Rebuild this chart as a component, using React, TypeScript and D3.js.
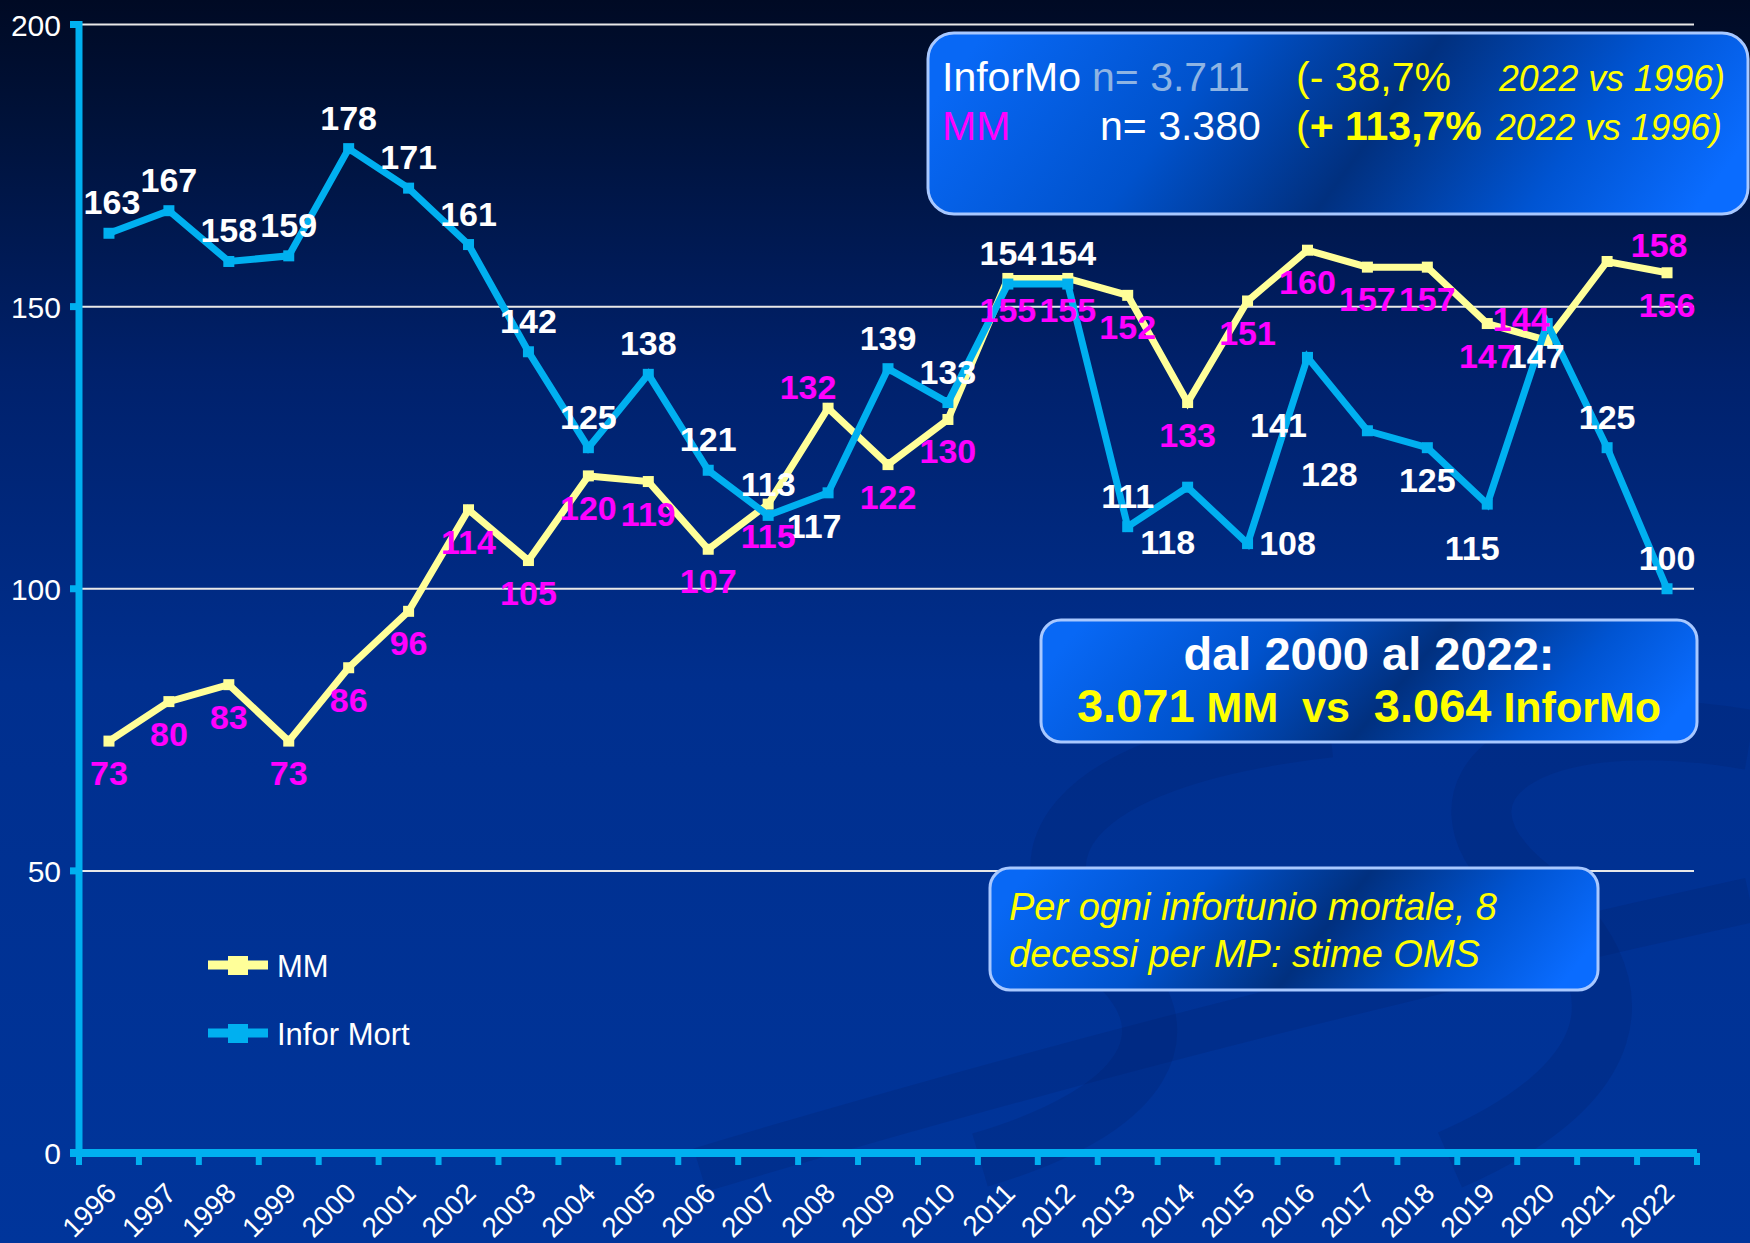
import React from "react";
import * as d3 from "d3";

const years = ["1996","1997","1998","1999","2000","2001","2002","2003","2004","2005","2006","2007","2008","2009","2010","2011","2012","2013","2014","2015","2016","2017","2018","2019","2020","2021","2022"];
const inforMort = [163,167,158,159,178,171,161,142,125,138,121,113,117,139,133,154,154,111,118,108,141,128,125,115,147,125,100];
const mm = [73,80,83,73,86,96,114,105,120,119,107,115,132,122,130,155,155,152,133,151,160,157,157,147,144,158,156];
const yTicks = [0, 50, 100, 150, 200];

// label placement (center offsets from point), layout only
const inforLabelOffsets: Record<number, [number, number]> = {
  0: [3, -31], 12: [-14, 33], 18: [-20, 55], 19: [40, -1], 20: [-29, 68],
  21: [-38, 43], 22: [0, 32], 23: [-15, 44], 24: [-11, 32],
};
const mmLabelOffsets: Record<number, [number, number]> = {
  12: [-20, -21], 24: [-26, -21], 25: [52, -16],
};

const W = 1750, H = 1243;
const FONT = "'Liberation Sans', Arial, Helvetica, sans-serif";
const CYAN = "#00B0F0";
const YEL = "#FFFF99";
const MAG = "#FF00FF";
const NB2 = "\u00A0\u00A0";

export default function App() {
  const x = d3.scaleBand<string>().domain(years).range([79, 1697]);
  const bw = x.bandwidth();
  const cx = (i: number) => (x(years[i]) as number) + bw / 2;
  const y = d3.scaleLinear().domain([0, 200]).range([1153, 24.5]);

  const line = d3.line<number>().x((_, i) => cx(i)).y((d) => y(d));

  const labelFs = 34;
  const boxGrad = (id: string) => (
    <linearGradient id={id} x1="0" y1="0.42" x2="1" y2="0.58">
      <stop offset="0" stopColor="#0868f5" />
      <stop offset="0.3" stopColor="#0052cc" />
      <stop offset="0.55" stopColor="#01307f" />
      <stop offset="0.8" stopColor="#0054d2" />
      <stop offset="1" stopColor="#0a6cff" />
    </linearGradient>
  );

  return (
    <svg width={W} height={H} style={{ position: "absolute", left: 0, top: 0, display: "block" }} fontFamily={FONT}>
      <defs>
        <linearGradient id="bg" x1="0" y1="0" x2="0" y2="1">
          <stop offset="0" stopColor="#000a24" />
          <stop offset="0.1" stopColor="#00123a" />
          <stop offset="0.3" stopColor="#00216c" />
          <stop offset="0.55" stopColor="#002f8e" />
          <stop offset="1" stopColor="#00359b" />
        </linearGradient>
        {boxGrad("box1")}
        {boxGrad("box2")}
        {boxGrad("box3")}
      </defs>
      <rect x={0} y={0} width={W} height={H} fill="url(#bg)" />
      {/* background swooshes */}
      <g fill="none" stroke="#001c66" strokeOpacity={0.2}>
        <path d="M 1330 730 C 1060 760, 1000 860, 1110 960 C 1190 1030, 1150 1110, 980 1160" strokeWidth={55} />
        <path d="M 1750 740 C 1520 700, 1420 790, 1520 880 C 1660 990, 1610 1090, 1450 1160" strokeWidth={60} />
        <path d="M 700 1170 Q 1200 1020 1750 900" strokeWidth={45} />
      </g>

      {/* gridlines */}
      {yTicks.filter((t) => t > 0).map((t) => (
        <line key={t} x1={82} x2={1694} y1={y(t)} y2={y(t)} stroke="#E8E8E8" strokeWidth={2} />
      ))}

      {/* y axis */}
      <line x1={79} x2={79} y1={21} y2={1157} stroke={CYAN} strokeWidth={7} />
      {yTicks.map((t) => (
        <g key={t}>
          <line x1={70} x2={80} y1={y(t)} y2={y(t)} stroke={CYAN} strokeWidth={7} />
          <text x={61} y={y(t) + 11} fill="#FFFFFF" fontSize={30} textAnchor="end">{t}</text>
        </g>
      ))}

      {/* x axis */}
      <line x1={70} x2={1697} y1={1153} y2={1153} stroke={CYAN} strokeWidth={8} />
      {d3.range(years.length + 1).map((i) => (
        <line key={i} x1={79 + i * bw} x2={79 + i * bw} y1={1153} y2={1165} stroke={CYAN} strokeWidth={6} />
      ))}
      {years.map((yr, i) => (
        <text key={yr} transform={`translate(${cx(i) + 9},${1195}) rotate(-45)`} fill="#FFFFFF" fontSize={28} textAnchor="end">{yr}</text>
      ))}

      {/* series lines */}
      <path d={line(mm) || ""} fill="none" stroke={YEL} strokeWidth={7} />
      {mm.map((v, i) => (
        <rect key={i} x={cx(i) - 5.5} y={y(v) - 5.5} width={11} height={11} fill={YEL} />
      ))}
      <path d={line(inforMort) || ""} fill="none" stroke={CYAN} strokeWidth={7} />
      {inforMort.map((v, i) => (
        <rect key={i} x={cx(i) - 5.5} y={y(v) - 5.5} width={11} height={11} fill={CYAN} />
      ))}

      {/* data labels */}
      {inforMort.map((v, i) => {
        const [dx, dy] = inforLabelOffsets[i] || [0, -31];
        return (
          <text key={"il" + i} x={cx(i) + dx} y={y(v) + dy + 12} fill="#FFFFFF" fontSize={labelFs} fontWeight="bold" textAnchor="middle">{v}</text>
        );
      })}
      {mm.map((v, i) => {
        const [dx, dy] = mmLabelOffsets[i] || [0, 32];
        return (
          <text key={"ml" + i} x={cx(i) + dx} y={y(v) + dy + 12} fill={MAG} fontSize={labelFs} fontWeight="bold" textAnchor="middle">{v}</text>
        );
      })}

      {/* legend */}
      <g>
        <line x1={208} x2={268} y1={965} y2={965} stroke={YEL} strokeWidth={9} />
        <rect x={228} y={956} width={20} height={19} fill={YEL} />
        <text x={277} y={977} fill="#FFFFFF" fontSize={31}>MM</text>
        <line x1={208} x2={268} y1={1033} y2={1033} stroke={CYAN} strokeWidth={9} />
        <rect x={228} y={1024} width={20} height={19} fill={CYAN} />
        <text x={277} y={1045} fill="#FFFFFF" fontSize={31}>Infor Mort</text>
      </g>

      {/* box 1 */}
      <rect x={928} y={33} width={820} height={181} rx={26} fill="url(#box1)" stroke="#A8C8FF" strokeWidth={3} />
      <text y={91} fontSize={41}>
        <tspan x={942} fill="#FFFFFF">InforMo</tspan>
        <tspan x={1092} fill="#8EB4E3">n= 3.711</tspan>
        <tspan x={1296} fill="#FFFF00">(- 38,7%</tspan>
      </text>
      <text x={1499} y={91} fontSize={37} fill="#FFFF00" fontStyle="italic" textLength={226} lengthAdjust="spacingAndGlyphs">2022 vs 1996)</text>
      <text y={140} fontSize={41}>
        <tspan x={942} fill={MAG}>MM</tspan>
        <tspan x={1100} fill="#FFFFFF">n= 3.380</tspan>
        <tspan x={1296} fill="#FFFF00">(</tspan>
        <tspan fill="#FFFF00" fontWeight="bold">+ 113,7%</tspan>
      </text>
      <text x={1496} y={140} fontSize={37} fill="#FFFF00" fontStyle="italic" textLength={226} lengthAdjust="spacingAndGlyphs">2022 vs 1996)</text>

      {/* box 2 */}
      <rect x={1041} y={620} width={656} height={122} rx={20} fill="url(#box2)" stroke="#A8C8FF" strokeWidth={3} />
      <text x={1369} y={670} fontSize={47} fontWeight="bold" fill="#FFFFFF" textAnchor="middle">dal 2000 al 2022:</text>
      <text x={1369} y={722} fontWeight="bold" fill="#FFFF00" textAnchor="middle">
        <tspan fontSize={47}>3.071</tspan>
        <tspan fontSize={43}>{" MM" + NB2 + "vs" + NB2}</tspan>
        <tspan fontSize={47}>3.064</tspan>
        <tspan fontSize={43}> InforMo</tspan>
      </text>

      {/* box 3 */}
      <rect x={990} y={868} width={608} height={122} rx={20} fill="url(#box3)" stroke="#A8C8FF" strokeWidth={3} />
      <text x={1009} y={920} fontSize={38} fontStyle="italic" fill="#FFFF00">Per ogni infortunio mortale, 8</text>
      <text x={1009} y={967} fontSize={38} fontStyle="italic" fill="#FFFF00">decessi per MP: stime OMS</text>
    </svg>
  );
}
